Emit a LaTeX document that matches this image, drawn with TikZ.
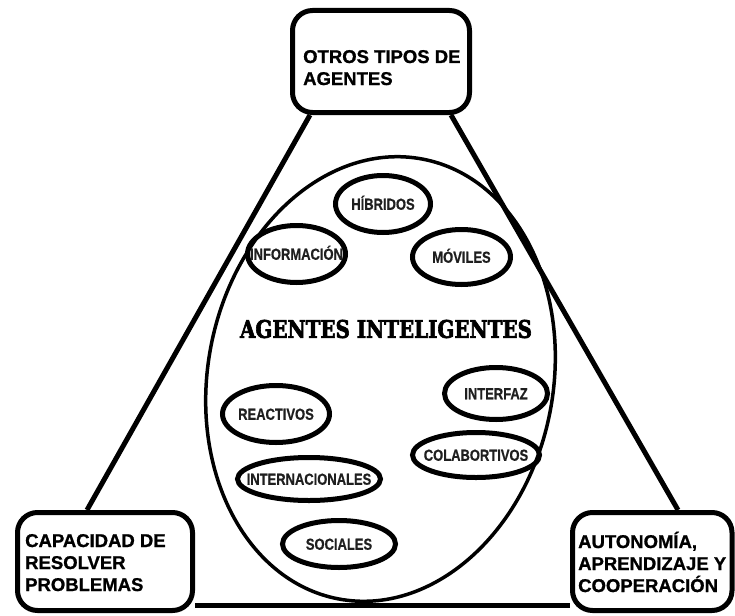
\documentclass[tikz,border=0pt]{standalone}
\usepackage{graphicx}
\usepackage{fontspec}
\setmainfont{Liberation Sans}[BoldFont={Liberation Sans Bold}]
\newfontfamily\boxfont{Liberation Sans Bold}[FakeBold=1]
\newfontfamily\labfont{Liberation Sans Bold}[FakeStretch=0.81, FakeBold=0.6]
\newfontfamily\titlefont{DejaVu Serif Bold}[FakeBold=3]
\usetikzlibrary{shapes.geometric}
\tikzset{
  box/.style={draw, line width=5pt, rounded corners=20pt, inner sep=0pt},
  boxtext/.style={anchor=base west, inner sep=0pt, align=left,
    font=\boxfont\fontsize{18.5}{22}\selectfont},
  lab/.style={inner sep=0pt, text height=11.5pt, text depth=0pt, text=black!88,
    font=\labfont\fontsize{16}{18}\selectfont},
  tipo/.style={draw, ellipse, line width=5pt, inner sep=0pt},
  tri/.style={line width=5pt},
}
\begin{document}
\begin{tikzpicture}[x=1pt,y=1pt]
\useasboundingbox (0,0) rectangle (735,-615);
\fill[white] (0,0) rectangle (735,-615);

% corner boxes
\node[box, minimum width=177pt, minimum height=102pt] (otros) at (381,-61.5) {};
\node[box, minimum width=175pt, minimum height=98pt] (capa) at (105,-561.5) {};
\node[box, minimum width=159.5pt, minimum height=98pt] (auto) at (652.25,-561.5) {};
% base anchor of a multi-line node is the baseline of its last line
\node[boxtext] (otrosT) at (303,-85) {OTROS TIPOS DE\\AGENTES};
\node[boxtext] (capaT) at (25,-591) {CAPACIDAD DE\\RESOLVER\\PROBLEMAS};
\node[boxtext] (autoT) at (578,-592) {AUTONOMÍA,\\APRENDIZAJE Y\\COOPERACIÓN};

% triangle connectors
\draw[tri] ([xshift=20pt]otros.south west) -- ([xshift=72pt]capa.north west);
\draw[tri] ([xshift=-21pt]otros.south east) -- ([xshift=108pt]auto.north west);
\draw[tri] ([yshift=7.5pt]capa.south east) -- ([yshift=7.5pt]auto.south west);

% big ellipse
\node[draw, ellipse, line width=3.5pt, inner sep=0pt, minimum width=345.4pt,
  minimum height=447.8pt, rotate=-10.9] (big) at (380.5,-379) {};
\node[inner sep=0pt, font=\titlefont] (ag) at (386,-329)
  {\resizebox{292pt}{18pt}{AGENTES INTELIGENTES}};

% small ellipses
\node[tipo, minimum width=95pt, minimum height=57pt, label={[lab]center:HÍBRIDOS}] (hib) at (383,-204) {};
\node[tipo, minimum width=98pt, minimum height=57pt, label={[lab]center:INFORMACIÓN}] (inf) at (296.5,-254) {};
\node[tipo, minimum width=98pt, minimum height=55pt, label={[lab]center:MÓVILES}] (mov) at (461.5,-257) {};
\node[tipo, minimum width=107pt, minimum height=57pt, label={[lab]center:REACTIVOS}] (rea) at (276,-414) {};
\node[tipo, minimum width=103pt, minimum height=52pt, label={[lab]center:INTERFAZ}] (intf) at (496,-393.5) {};
\node[tipo, minimum width=127pt, minimum height=45pt, label={[lab]center:COLABORTIVOS}] (col) at (476,-455) {};
\node[tipo, minimum width=143pt, minimum height=43pt, label={[lab]center:INTERNACIONALES}] (intn) at (309,-479) {};
\node[tipo, minimum width=113pt, minimum height=47pt, label={[lab]center:SOCIALES}] (soc) at (339,-544) {};
\end{tikzpicture}
\end{document}
